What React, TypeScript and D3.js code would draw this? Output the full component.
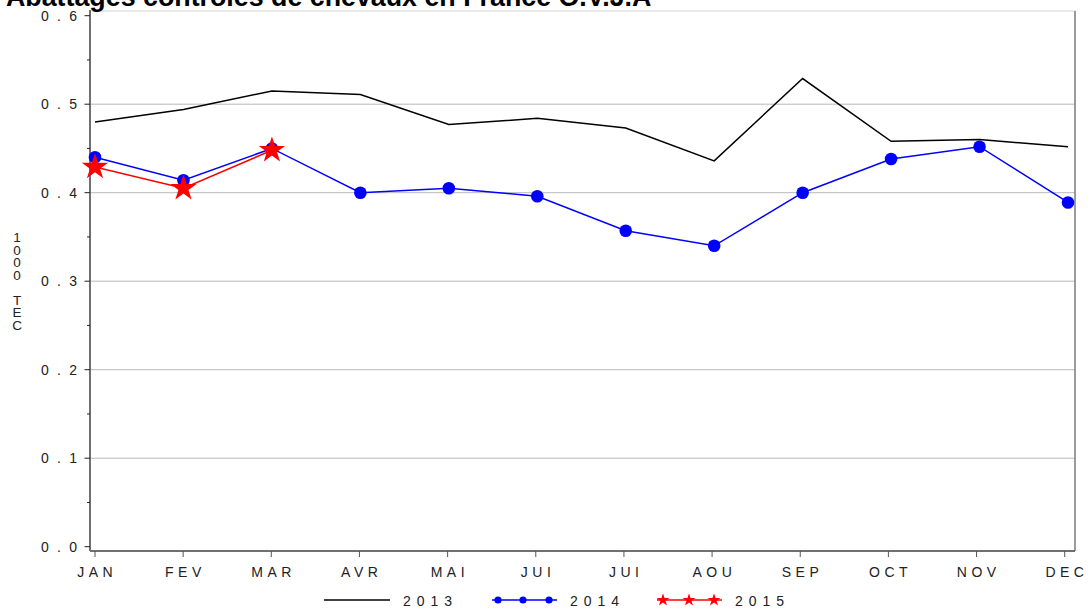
import React from "react";
import * as d3 from "d3";

const months = ["JAN", "FEV", "MAR", "AVR", "MAI", "JUI", "JUI", "AOU", "SEP", "OCT", "NOV", "DEC"];
const series2013 = [0.480, 0.494, 0.515, 0.511, 0.477, 0.484, 0.473, 0.436, 0.529, 0.458, 0.460, 0.452];
const series2014 = [0.440, 0.414, 0.450, 0.400, 0.405, 0.396, 0.357, 0.340, 0.400, 0.438, 0.452, 0.389];
const series2015 = [0.429, 0.405, 0.448];
const yTicks = [0, 0.1, 0.2, 0.3, 0.4, 0.5, 0.6];
const yMinor = [0.05, 0.15, 0.25, 0.35, 0.45, 0.55];
const legendItems = ["2013", "2014", "2015"];
const title = "Abattages controles de chevaux en France O.V.J.A";
const yTitle = "1000 TEC";

const W = 1088;
const H = 612;
const FONT = "'Liberation Sans', Arial, Helvetica, sans-serif";

export default function App() {
  const frame = { left: 90, right: 1075, top: 11, bottom: 551 };
  const y = d3.scaleLinear().domain([0, 0.6]).range([546.7, 15.7]);
  const xTick = d3.scaleLinear().domain([0, 11]).range([95, 1064.7]);
  const xPt = d3.scaleLinear().domain([0, 11]).range([95, 1068]);

  const line = d3
    .line<number>()
    .x((_, i) => xPt(i))
    .y((d) => y(d));

  const starBig = d3.symbol().type(d3.symbolStar).size(215)() as string;
  const starSmall = d3.symbol().type(d3.symbolStar).size(52)() as string;

  const fmt = d3.format(".1f");
  const xls = 4.5;

  return (
    <div style={{ position: "fixed", left: 0, top: 0, width: W, height: H }}>
      <svg width={W} height={H} style={{ display: "block", background: "#fff" }} fontFamily={FONT}>
        {yTicks
          .filter((t) => t > 0 && t < 0.6)
          .map((t) => (
            <line key={"g" + t} x1={frame.left} x2={frame.right} y1={y(t)} y2={y(t)} stroke="#b9b9b9" strokeWidth={1} />
          ))}
        <line x1={frame.left} x2={frame.right} y1={frame.top} y2={frame.top} stroke="#d4d4d4" strokeWidth={1} />
        <line x1={frame.right} x2={frame.right} y1={frame.top} y2={frame.bottom} stroke="#7a7a7a" strokeWidth={1.5} />
        <line x1={frame.left} x2={frame.left} y1={frame.top - 1} y2={frame.bottom} stroke="#707070" strokeWidth={2} />
        <line x1={frame.left} x2={frame.right} y1={frame.bottom} y2={frame.bottom} stroke="#707070" strokeWidth={2} />

        {yTicks.map((t) => (
          <g key={"yt" + t}>
            <line x1={84.5} x2={frame.left} y1={y(t)} y2={y(t)} stroke="#222" strokeWidth={1} />
            <text x={41} y={y(t) + 5} fontSize={14} letterSpacing={2.2} fill="#222">
              {fmt(t).split("").join(" ")}
            </text>
          </g>
        ))}
        {yMinor.map((t) => (
          <line key={"ym" + t} x1={87} x2={frame.left} y1={y(t)} y2={y(t)} stroke="#222" strokeWidth={1} />
        ))}

        {months.map((m, i) => (
          <g key={"xt" + i}>
            <line x1={xTick(i)} x2={xTick(i)} y1={frame.bottom} y2={557} stroke="#555" strokeWidth={1} />
            <text x={xTick(i) + xls / 2} y={577} fontSize={14} letterSpacing={xls} textAnchor="middle" fill="#222">
              {m}
            </text>
          </g>
        ))}

        <text x={17} y={242} fontSize={13.5} textAnchor="middle" fill="#222">
          {yTitle.split("").map((c, i) => (
            <tspan key={i} x={17} y={242 + i * 12.5}>
              {c === " " ? "\u00a0" : c}
            </tspan>
          ))}
        </text>

        <path d={line(series2013) as string} fill="none" stroke="#000" strokeWidth={1.5} />
        <path d={line(series2014) as string} fill="none" stroke="#0000ff" strokeWidth={1.5} />
        {series2014.map((v, i) => (
          <circle key={"c" + i} cx={xPt(i)} cy={y(v)} r={6.3} fill="#0000ff" />
        ))}
        <path d={line(series2015) as string} fill="none" stroke="#ff0000" strokeWidth={1.5} />
        {series2015.map((v, i) => (
          <path key={"s" + i} d={starBig} transform={`translate(${xPt(i)},${y(v)})`} fill="#ff0000" />
        ))}

        <g>
          <line x1={324} x2={390} y1={600} y2={600} stroke="#000" strokeWidth={1.5} />
          <text x={403} y={606} fontSize={14} letterSpacing={6} fill="#222">{legendItems[0]}</text>

          <line x1={492} x2={557} y1={600} y2={600} stroke="#0000ff" strokeWidth={1.5} />
          {[498, 523, 549].map((cx) => (
            <circle key={"lc" + cx} cx={cx} cy={600} r={3.6} fill="#0000ff" />
          ))}
          <text x={570} y={606} fontSize={14} letterSpacing={6} fill="#222">{legendItems[1]}</text>

          <line x1={657} x2={722} y1={600} y2={600} stroke="#ff0000" strokeWidth={1.5} />
          {[663, 689, 714].map((cx) => (
            <path key={"ls" + cx} d={starSmall} transform={`translate(${cx},600)`} fill="#ff0000" />
          ))}
          <text x={735} y={606} fontSize={14} letterSpacing={6} fill="#222">{legendItems[2]}</text>
        </g>

        <text x={6} y={6} fontSize={26.8} fontWeight="bold" fill="#000">
          {title}
        </text>
      </svg>
    </div>
  );
}
